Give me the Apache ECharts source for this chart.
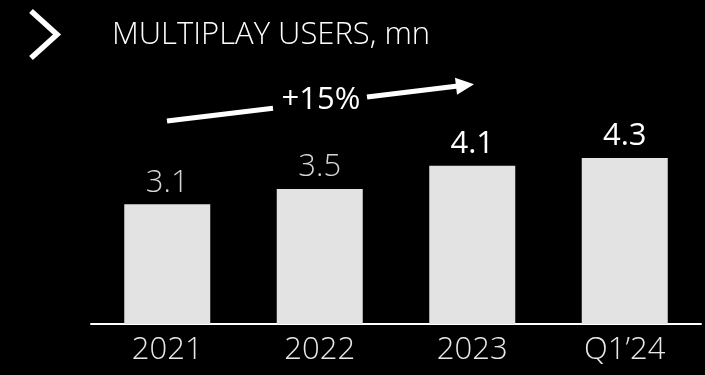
<!DOCTYPE html>
<html>
<head>
<meta charset="utf-8">
<script src="https://cdn.jsdelivr.net/npm/echarts@6/dist/echarts.min.js"></script>
<style>
  html, body { margin: 0; padding: 0; background: #000; }
  #chart { width: 705px; height: 375px; }
</style>
</head>
<body>
<div id="chart"></div>
<script>
// Multiplay users by period, millions
const categories = ['2021', '2022', '2023', 'Q1\u201924'];
const users = [3.1, 3.5, 4.1, 4.3];
const growthLabel = '+15%';
const titleText = 'MULTIPLAY USERS, mn';

const FONT = '"Open Sans", "DejaVu Sans", sans-serif';

// older periods get a dim thin label, recent ones a bright regular label
const labelStyles = [
  { color: '#d6d6d6', fontWeight: 300 },
  { color: '#d6d6d6', fontWeight: 300 },
  { color: '#ffffff', fontWeight: 400 },
  { color: '#ffffff', fontWeight: 400 }
];

const chart = echarts.init(document.getElementById('chart'), null, { renderer: 'canvas' });

chart.setOption({
  backgroundColor: '#000000',
  animation: false,
  title: {
    text: titleText,
    left: 107,
    top: 15,
    textStyle: { color: '#ffffff', fontFamily: FONT, fontWeight: 300, fontSize: 31 }
  },
  grid: { left: 91, right: 4, top: 131, bottom: 51, containLabel: false },
  xAxis: {
    type: 'category',
    data: categories,
    axisLine: { show: true, lineStyle: { color: '#ffffff', width: 2 } },
    axisTick: { show: false },
    axisLabel: { color: '#e8e8e8', fontFamily: FONT, fontWeight: 300, fontSize: 31, margin: 11 }
  },
  yAxis: {
    type: 'value',
    min: 0,
    max: 5,
    show: false,
    splitLine: { show: false }
  },
  series: [{
    type: 'bar',
    barWidth: 86,
    data: users.map((v, i) => ({
      value: v,
      label: { color: labelStyles[i].color, fontWeight: labelStyles[i].fontWeight }
    })),
    itemStyle: { color: '#e3e3e3' },
    label: {
      show: true,
      position: 'top',
      distance: 6,
      fontFamily: FONT,
      fontSize: 31,
      formatter: p => p.value.toFixed(1)
    }
  }],
  graphic: [
    // chevron
    {
      type: 'polyline',
      shape: { points: [[31, 11], [57, 34.5], [31, 58]] },
      style: { stroke: '#ffffff', lineWidth: 5.5, fill: null, lineJoin: 'miter', lineCap: 'butt' }
    },
    // growth arrow, broken around its label
    {
      type: 'line',
      shape: { x1: 167, y1: 121, x2: 273, y2: 108.3 },
      style: { stroke: '#ffffff', lineWidth: 5 }
    },
    {
      type: 'line',
      shape: { x1: 367, y1: 97, x2: 458, y2: 86.1 },
      style: { stroke: '#ffffff', lineWidth: 5 }
    },
    {
      type: 'polygon',
      shape: { points: [[474, 84.2], [455, 77.8], [457, 94.7]] },
      style: { fill: '#ffffff' }
    },
    {
      type: 'text',
      x: 321,
      y: 100,
      style: {
        text: growthLabel,
        fill: '#ffffff',
        font: '400 31px ' + FONT,
        align: 'center',
        verticalAlign: 'middle'
      }
    }
  ]
});
</script>
</body>
</html>
